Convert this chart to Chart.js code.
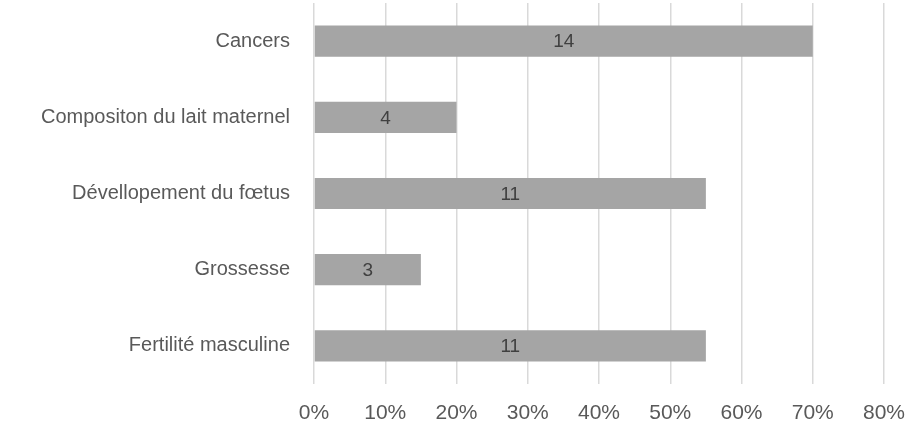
<!DOCTYPE html>
<html>
<head>
<meta charset="utf-8">
<script src="https://cdn.jsdelivr.net/npm/chart.js@4/dist/chart.umd.min.js"></script>
<style>
  html, body { margin: 0; padding: 0; background: #fff; }
  #wrap { width: 913px; height: 431px; }
</style>
</head>
<body>
<div id="wrap"><canvas id="graphique"></canvas></div>
<script>
// Données
const categories = ['Cancers', 'Compositon du lait maternel', 'Dévellopement du fœtus', 'Grossesse', 'Fertilité masculine'];
const pourcentages = [70, 20, 55, 15, 55];
const effectifs = [14, 4, 11, 3, 11];
const ticksX = [0, 10, 20, 30, 40, 50, 60, 70, 80];

// Écrit l'effectif au centre de chaque barre
const etiquettes = {
    id: 'etiquettes',
    afterDatasetsDraw(chart) {
        const ctx = chart.ctx;
        const meta = chart.getDatasetMeta(0);
        ctx.save();
        ctx.font = '19px "Liberation Sans", sans-serif';
        ctx.fillStyle = '#404040';
        ctx.textAlign = 'center';
        ctx.textBaseline = 'middle';
        meta.data.forEach((barre, i) => {
            const centre = (barre.x + barre.base) / 2;
            ctx.fillText(String(effectifs[i]), centre, barre.y + 1);
        });
        ctx.restore();
    }
};

new Chart(document.getElementById('graphique'), {
    type: 'bar',
    data: {
        labels: categories,
        datasets: [{
            data: pourcentages,
            backgroundColor: '#a5a5a5',
            borderWidth: 0,
            barPercentage: 0.41,
            categoryPercentage: 1
        }]
    },
    options: {
        indexAxis: 'y',
        responsive: true,
        maintainAspectRatio: false,
        animation: false,
        layout: { padding: { top: 3, right: 29, left: 0, bottom: 0 } },
        plugins: { legend: { display: false }, tooltip: { enabled: false } },
        scales: {
            x: {
                min: 0,
                max: 80,
                afterBuildTicks(axis) { axis.ticks = ticksX.map(v => ({ value: v })); },
                afterFit(axis) {
                    axis.height = 47;
                    axis.paddingLeft = 0;
                    axis.paddingRight = 0;
                },
                border: { display: false },
                grid: { color: '#d9d9d9', lineWidth: 1.5, drawTicks: false },
                ticks: {
                    padding: 17,
                    color: '#595959',
                    font: { family: '"Liberation Sans Narrow", "Liberation Sans", sans-serif', size: 21 },
                    callback: v => v + '%',
                    maxRotation: 0
                }
            },
            y: {
                afterFit(axis) {
                    axis.width = 314;
                    axis.paddingTop = 0;
                    axis.paddingBottom = 0;
                },
                border: { display: false },
                grid: { display: false, drawTicks: false },
                ticks: {
                    padding: 24,
                    color: '#595959',
                    font: { family: '"Liberation Sans", sans-serif', size: 20 }
                }
            }
        }
    },
    plugins: [etiquettes]
});
</script>
</body>
</html>
